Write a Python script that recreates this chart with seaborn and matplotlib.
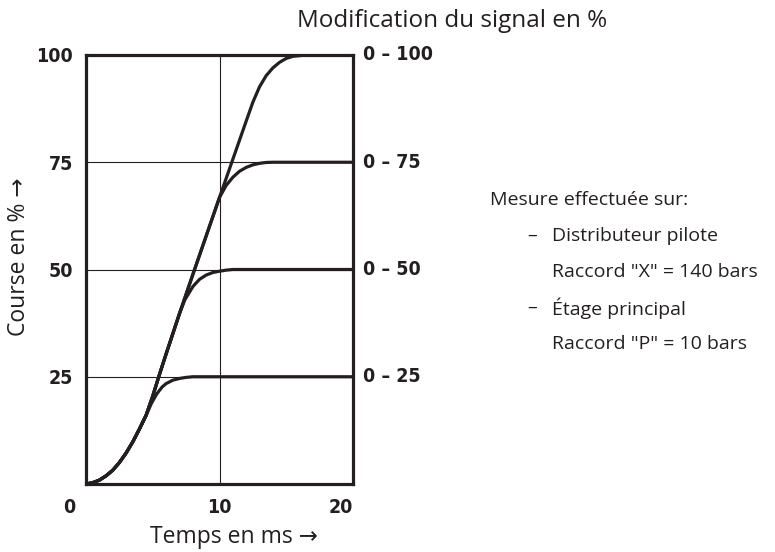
import matplotlib
matplotlib.use("Agg")
import matplotlib.pyplot as plt
import seaborn as sns
import pandas as pd

# Time axis (ms) and stroke (%)
time_100 = [0, 0.5, 1, 1.5, 2, 2.5, 3, 3.5, 4, 4.5, 5, 5.5, 6, 7, 8, 9, 10, 11, 12, 12.5, 13.0, 13.5, 14.0, 14.5, 15.0, 15.5, 16.5, 20]
stroke_100 = [0, 0.3, 0.9, 1.9, 3.2, 5.0, 7.2, 9.8, 12.8, 16.0, 20.5, 25.5, 30.3, 39.7, 48.8, 57.8, 66.8, 75.7, 84.6, 89.0, 92.6, 95.2, 97.0, 98.3, 99.2, 99.7, 100, 100]

time_75 = [0, 0.5, 1, 1.5, 2, 2.5, 3, 3.5, 4, 4.5, 5, 5.5, 6, 7, 8, 9, 10, 10.5, 11, 11.5, 12, 12.5, 13, 13.5, 14, 20]
stroke_75 = [0, 0.3, 0.9, 1.9, 3.2, 5.0, 7.2, 9.8, 12.8, 16.0, 20.5, 25.5, 30.3, 39.7, 48.8, 57.8, 66.8, 69.6, 71.5, 72.9, 73.8, 74.4, 74.75, 74.95, 75, 75]

time_50 = [0, 0.5, 1, 1.5, 2, 2.5, 3, 3.5, 4, 4.5, 5, 5.5, 6, 7, 7.4, 8.0, 8.5, 9.0, 9.5, 10, 10.5, 11, 20]
stroke_50 = [0, 0.3, 0.9, 1.9, 3.2, 5.0, 7.2, 9.8, 12.8, 16.0, 20.5, 25.5, 30.3, 39.7, 42.9, 46.0, 47.7, 48.7, 49.3, 49.6, 49.85, 50, 50]

time_25 = [0, 0.5, 1, 1.5, 2, 2.5, 3, 3.5, 4, 4.5, 4.9, 5.3, 5.7, 6.0, 6.5, 7.0, 7.5, 8.0, 20]
stroke_25 = [0, 0.3, 0.9, 1.9, 3.2, 5.0, 7.2, 9.8, 12.8, 16.0, 18.8, 21.0, 22.6, 23.4, 24.2, 24.6, 24.85, 25, 25]

signal_labels = ["0 – 100", "0 – 75", "0 – 50", "0 – 25"]
signal_levels = [100, 75, 50, 25]

x_ticks = [10, 20]
y_ticks = [25, 50, 75, 100]

note_head = "Mesure effectuée sur:"
note_items = ["Distributeur pilote", "Raccord \"X\" = 140 bars",
              "Étage principal", "Raccord \"P\" = 10 bars"]
note_dash = [True, False, True, False]

frames = []
for name, t, s in [("100", time_100, stroke_100), ("75", time_75, stroke_75),
                   ("50", time_50, stroke_50), ("25", time_25, stroke_25)]:
    frames.append(pd.DataFrame({"t": t, "s": s, "signal": name}))
df = pd.concat(frames, ignore_index=True)

sns.set_theme(style="white")
plt.rcParams["font.family"] = ["Open Sans", "DejaVu Sans"]
narrow = dict(fontfamily="DejaVu Sans", fontstretch="condensed",
              fontweight="bold", fontsize=14)

ink = "#231f20"
fig = plt.figure(figsize=(7.75, 5.52), dpi=100)
ax = fig.add_axes([86 / 775, 1 - 484 / 552, 267 / 775, 429 / 552])

sns.lineplot(data=df, x="t", y="s", hue="signal", palette=[ink] * 4,
             estimator=None, sort=False, legend=False, lw=2.3, ax=ax,
             zorder=3)

ax.set_xlim(0, 20)
ax.set_ylim(0, 100)
ax.set_xticks(x_ticks)
ax.set_yticks(y_ticks)
ax.grid(True, color=ink, lw=0.8)
for sp in ax.spines.values():
    sp.set_visible(True)
    sp.set_color(ink)
    sp.set_linewidth(2.3)
    sp.set_zorder(4)

ax.tick_params(axis="both", length=0, colors=ink)
ax.tick_params(axis="y", pad=9.5)
ax.tick_params(axis="x", pad=10)
for lab in ax.get_xticklabels() + ax.get_yticklabels():
    lab.set(**narrow)
ax.get_xticklabels()[-1].set_horizontalalignment("right")
ax.get_xticklabels()[-1].set_x(20.3)
ax.annotate("0", xy=(0, 0), xycoords="data", xytext=(-12, -10),
            textcoords="offset points", ha="center", va="top",
            color=ink, **narrow)

for lab, lvl in zip(signal_labels, signal_levels):
    ax.annotate(lab, xy=(20, lvl), xycoords="data", xytext=(7.5, 0),
                textcoords="offset points", ha="left", va="center",
                color=ink, **narrow)

ax.set_xlabel("Temps en ms →", fontsize=16.5, color=ink)
ax.xaxis.set_label_coords((234 - 86) / 267, -0.095)
ax.set_ylabel("Course en % →", fontsize=16.5, color=ink)
ax.yaxis.set_label_coords(-0.205, 0.53)

fig.text(452 / 775, 1 - 21 / 552, "Modification du signal en %",
         ha="center", va="center", fontsize=17.5, color=ink)

fig.text(490 / 775, 1 - 200 / 552, note_head, ha="left", va="center",
         fontsize=14, color=ink)
for i, (txt, dash) in enumerate(zip(note_items, note_dash)):
    ny = 236 + 36 * i
    if dash:
        fig.text(527 / 775, 1 - ny / 552, "–", ha="left", va="center",
                 fontsize=14, color=ink)
    fig.text(552 / 775, 1 - ny / 552, txt, ha="left", va="center",
             fontsize=14, color=ink)

fig.savefig("out.png", dpi=100)
